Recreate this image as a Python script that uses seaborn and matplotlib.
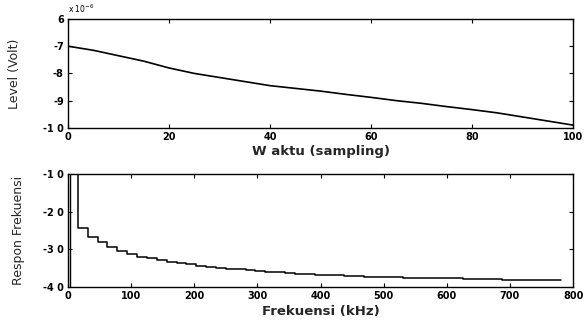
import numpy as np
import pandas as pd
import matplotlib
matplotlib.use("Agg")
import matplotlib.pyplot as plt
import seaborn as sns

# --- data ---
waktu = [0, 5, 10, 15, 20, 25, 30, 35, 40, 45, 50, 55, 60, 65, 70, 75, 80, 85, 90, 95, 100]
level = [-7.0, -7.15, -7.35, -7.55, -7.8, -8.0, -8.15, -8.3, -8.45, -8.55, -8.65, -8.77,
         -8.88, -9.0, -9.1, -9.22, -9.33, -9.45, -9.6, -9.75, -9.9]

bin_width_khz = 15.625
respon = [-8.0, -24.2, -26.6, -28.1, -29.4, -30.4, -31.3, -31.9, -32.4, -32.9,
          -33.3, -33.7, -34.0, -34.3, -34.6, -34.9, -35.1, -35.3, -35.5, -35.7,
          -35.9, -36.1, -36.2, -36.4, -36.5, -36.7, -36.8, -36.9, -37.0, -37.1,
          -37.2, -37.3, -37.4, -37.4, -37.5, -37.5, -37.6, -37.6, -37.7, -37.7,
          -37.8, -37.8, -37.9, -37.9, -38.0, -38.0, -38.1, -38.1, -38.2, -38.2]

top_xticks = [0, 20, 40, 60, 80, 100]
top_yticks = [-10, -9, -8, -7, -6]
top_yticklabels = ["-1 0", "-9", "-8", "-7", "6"]
bot_xticks = [0, 100, 200, 300, 400, 500, 600, 700, 800]
bot_yticks = [-40, -30, -20, -10]
bot_yticklabels = ["-4 0", "-3 0", "-2 0", "-1 0"]

sns.set_theme(style="white")
plt.rcParams["font.family"] = ["DejaVu Sans"]

fig = plt.figure(figsize=(5.84, 3.27), dpi=100)
ax1 = fig.add_axes([0.1164, 0.609, 0.865, 0.333])
ax2 = fig.add_axes([0.1164, 0.122, 0.865, 0.346])

df1 = pd.DataFrame({"t": waktu, "v": level})
sns.lineplot(data=df1, x="t", y="v", ax=ax1, color="black", linewidth=1.2)

freq_edges = np.arange(len(respon) + 1) * bin_width_khz
resp_ext = respon + [respon[-1]]
df2 = pd.DataFrame({"f": freq_edges, "r": resp_ext})
sns.lineplot(data=df2, x="f", y="r", ax=ax2, color="black", linewidth=1.1,
             drawstyle="steps-post")
ax2.plot([freq_edges[0] + 3, freq_edges[0] + 3], [-10, -40], color="black", lw=1.0, clip_on=True)

tick_font = dict(fontsize=7, fontweight="bold")
for ax in (ax1, ax2):
    for s in ax.spines.values():
        s.set_visible(True)
        s.set_color("black")
        s.set_linewidth(1.0)
    ax.tick_params(direction="in", length=3, width=0.8, colors="black",
                   top=True, right=True, bottom=True, left=True, pad=3)
    ax.set_facecolor("white")

ax1.set_xlim(0, 100)
ax1.set_ylim(-10, -6)
ax1.set_xticks(top_xticks)
ax1.set_xticklabels([str(v) for v in top_xticks], **tick_font)
ax1.set_yticks(top_yticks)
ax1.set_yticklabels(top_yticklabels, **tick_font)
ax1.set_xlabel("W aktu (sampling)", fontsize=9.5, fontweight="bold", labelpad=2)
ax1.set_ylabel("Level (Volt)", fontsize=9, labelpad=16)
ax1.text(0.0, 1.04, "x 10$^{-6}$", transform=ax1.transAxes, fontsize=5.5,
         ha="left", va="bottom", color="black")

ax2.set_xlim(0, 800)
ax2.set_ylim(-40, -10)
ax2.set_xticks(bot_xticks)
ax2.set_xticklabels([str(v) for v in bot_xticks], **tick_font)
ax2.set_yticks(bot_yticks)
ax2.set_yticklabels(bot_yticklabels, **tick_font)
ax2.set_xlabel("Frekuensi (kHz)", fontsize=9.5, fontweight="bold", labelpad=3)
ax2.set_ylabel("Respon Frekuensi", fontsize=9, labelpad=13)

fig.savefig("out.png", dpi=100, facecolor="white")
